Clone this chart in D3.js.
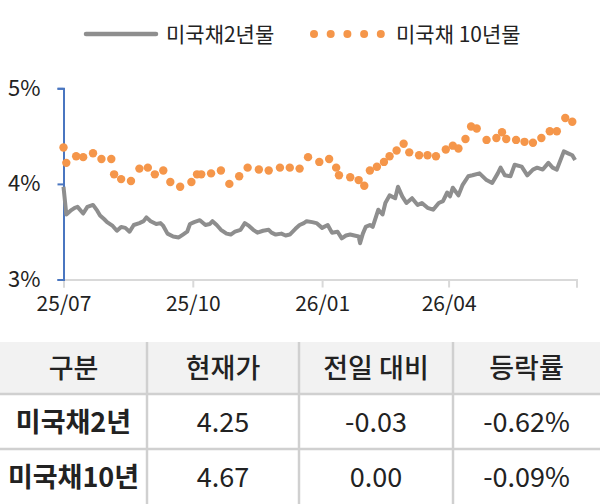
<!DOCTYPE html>
<html>
<head>
<meta charset="utf-8">
<script src="https://cdn.jsdelivr.net/npm/d3@7"></script>
<style>
  body { margin: 0; background: #fff; }
  text { font-family: "Noto Sans CJK KR", "Noto Sans", sans-serif; fill: #222; }
</style>
</head>
<body>
<div id="chart"></div>
<script>
// 미국채 2년물 (daily-ish line)
const t2Dates = ["2025-07-01","2025-07-03","2025-07-06","2025-07-09","2025-07-11","2025-07-15","2025-07-18","2025-07-22","2025-07-25","2025-07-27","2025-07-30","2025-08-01","2025-08-05","2025-08-08","2025-08-11","2025-08-14","2025-08-17","2025-08-20","2025-08-24","2025-08-27","2025-08-29","2025-09-01","2025-09-05","2025-09-08","2025-09-10","2025-09-13","2025-09-17","2025-09-21","2025-09-24","2025-09-27","2025-09-29","2025-10-02","2025-10-06","2025-10-10","2025-10-13","2025-10-15","2025-10-18","2025-10-21","2025-10-25","2025-10-28","2025-10-31","2025-11-04","2025-11-07","2025-11-10","2025-11-13","2025-11-16","2025-11-20","2025-11-24","2025-11-26","2025-11-29","2025-12-03","2025-12-06","2025-12-09","2025-12-13","2025-12-16","2025-12-19","2025-12-21","2025-12-25","2025-12-28","2026-01-01","2026-01-05","2026-01-08","2026-01-12","2026-01-15","2026-01-18","2026-01-21","2026-01-24","2026-01-27","2026-01-28","2026-01-30","2026-02-01","2026-02-04","2026-02-06","2026-02-10","2026-02-13","2026-02-15","2026-02-18","2026-02-22","2026-02-24","2026-02-27","2026-03-02","2026-03-06","2026-03-10","2026-03-13","2026-03-17","2026-03-21","2026-03-25","2026-03-28","2026-03-31","2026-04-02","2026-04-04","2026-04-08","2026-04-11","2026-04-15","2026-04-18","2026-04-23","2026-04-28","2026-05-02","2026-05-06","2026-05-08","2026-05-11","2026-05-15","2026-05-18","2026-05-23","2026-05-27","2026-05-31","2026-06-03","2026-06-07","2026-06-11","2026-06-14","2026-06-17","2026-06-22","2026-06-25","2026-06-28","2026-06-30"];
const t2Values = [3.97,3.68,3.72,3.75,3.76,3.69,3.76,3.78,3.72,3.67,3.63,3.60,3.56,3.51,3.55,3.54,3.50,3.57,3.59,3.61,3.65,3.61,3.58,3.59,3.56,3.48,3.45,3.44,3.47,3.50,3.58,3.60,3.62,3.57,3.58,3.61,3.57,3.52,3.48,3.47,3.50,3.52,3.59,3.56,3.52,3.49,3.51,3.52,3.49,3.47,3.48,3.46,3.47,3.53,3.57,3.59,3.61,3.60,3.59,3.54,3.57,3.49,3.50,3.43,3.46,3.47,3.46,3.45,3.38,3.48,3.55,3.57,3.55,3.73,3.68,3.80,3.88,3.85,3.97,3.87,3.80,3.85,3.78,3.80,3.75,3.73,3.80,3.82,3.91,3.87,3.96,3.88,3.99,4.08,4.09,4.11,4.04,4.01,4.11,4.17,4.09,4.08,4.20,4.18,4.09,4.15,4.17,4.15,4.22,4.17,4.15,4.34,4.32,4.30,4.25];

// 미국채 10년물 (dots)
const t10Dates = ["2025-07-01","2025-07-03","2025-07-10","2025-07-15","2025-07-22","2025-07-28","2025-08-04","2025-08-06","2025-08-11","2025-08-18","2025-08-24","2025-08-30","2025-09-04","2025-09-10","2025-09-15","2025-09-22","2025-09-30","2025-10-04","2025-10-07","2025-10-14","2025-10-21","2025-10-27","2025-11-03","2025-11-09","2025-11-17","2025-11-24","2025-12-02","2025-12-09","2025-12-16","2025-12-22","2025-12-30","2026-01-06","2026-01-11","2026-01-13","2026-01-21","2026-01-27","2026-01-31","2026-02-04","2026-02-09","2026-02-14","2026-02-18","2026-02-23","2026-02-28","2026-03-04","2026-03-11","2026-03-17","2026-03-23","2026-03-30","2026-04-04","2026-04-08","2026-04-13","2026-04-17","2026-04-21","2026-04-28","2026-05-05","2026-05-09","2026-05-12","2026-05-19","2026-05-25","2026-05-31","2026-06-06","2026-06-12","2026-06-17","2026-06-23","2026-06-28"];
const t10Values = [4.38,4.22,4.29,4.28,4.32,4.26,4.26,4.10,4.05,4.03,4.16,4.17,4.10,4.14,4.02,3.97,4.02,4.10,4.10,4.11,4.14,4.00,4.08,4.17,4.15,4.14,4.17,4.17,4.16,4.28,4.23,4.26,4.17,4.09,4.07,4.04,3.98,4.14,4.18,4.23,4.29,4.35,4.42,4.33,4.30,4.30,4.29,4.36,4.40,4.37,4.47,4.60,4.58,4.46,4.48,4.54,4.47,4.46,4.44,4.43,4.48,4.55,4.55,4.69,4.65];

const xTickDates = ["2025-07-01","2025-10-01","2026-01-01","2026-04-01","2026-07-01"];
const xTickLabels = ["25/07","25/10","26/01","26/04",""];
const yTicks = [3, 4, 5];
const seriesNames = ["미국채2년물", "미국채 10년물"];

const tableHeaders = ["구분", "현재가", "전일 대비", "등락률"];
const tableNames = ["미국채2년", "미국채10년"];
const tablePrice = ["4.25", "4.67"];
const tableChange = ["-0.03", "0.00"];
const tableRate = ["-0.62%", "-0.09%"];

const W = 600, H = 504;
const parse = d3.timeParse("%Y-%m-%d");
const GRAY = "#8e8e8e", ORANGE = "#f5964a", BLUE = "#4a76c0";

const svg = d3.select("#chart").append("svg")
    .attr("width", W).attr("height", H);

const x = d3.scaleTime()
    .domain([parse("2025-07-01"), parse("2026-07-01")])
    .range([63.5, 576.5]);
const y = d3.scaleLinear().domain([3, 5]).range([279.5, 88.3]);

// x axis
const xAxis = d3.axisBottom(x)
    .tickValues(xTickDates.map(parse))
    .tickFormat((d, i) => xTickLabels[i])
    .tickSizeOuter(0).tickSize(8).tickPadding(9);
const gx = svg.append("g").attr("transform", "translate(0,279.5)").call(xAxis);
gx.select(".domain").attr("stroke", "#d9d9d9").attr("stroke-width", 2);
gx.selectAll(".tick line").attr("stroke", "#d9d9d9").attr("stroke-width", 2);
gx.selectAll(".tick text").style("font-size", "21px").attr("fill", "#222");

// y axis
const yAxis = d3.axisLeft(y)
    .tickValues(yTicks)
    .tickFormat(d => d + "%")
    .tickSizeOuter(0).tickSize(6).tickPadding(17);
const gy = svg.append("g").attr("transform", "translate(63.5,0)").call(yAxis);
gy.select(".domain").attr("stroke", BLUE).attr("stroke-width", 2);
gy.selectAll(".tick line").attr("stroke", BLUE).attr("stroke-width", 2);
gy.selectAll(".tick text").style("font-size", "22px").attr("fill", "#222");

// 2y line
const t2 = t2Dates.map((d, i) => ({ date: parse(d), v: t2Values[i] }));
svg.append("path")
    .datum(t2)
    .attr("fill", "none")
    .attr("stroke", GRAY)
    .attr("stroke-width", 4)
    .attr("stroke-linejoin", "round")
    .attr("d", d3.line().x(d => x(d.date)).y(d => y(d.v)));

// 10y dots
const t10 = t10Dates.map((d, i) => ({ date: parse(d), v: t10Values[i] }));
svg.append("g").selectAll("circle")
    .data(t10)
    .join("circle")
    .attr("cx", d => x(d.date))
    .attr("cy", d => y(d.v))
    .attr("r", 4.2)
    .attr("fill", ORANGE);

// legend
const lg = svg.append("g");
lg.append("line").attr("x1", 86).attr("x2", 156).attr("y1", 34).attr("y2", 34)
    .attr("stroke", GRAY).attr("stroke-width", 4.5).attr("stroke-linecap", "round");
lg.append("text").attr("x", 166).attr("y", 42).style("font-size", "21px").text(seriesNames[0]);
lg.selectAll("circle.leg")
    .data(d3.range(5))
    .join("circle")
    .attr("class", "leg")
    .attr("cx", i => 314 + i * 16.7)
    .attr("cy", 34)
    .attr("r", 4)
    .attr("fill", ORANGE);
lg.append("text").attr("x", 396).attr("y", 42).style("font-size", "21px").text(seriesNames[1]);

// table
const colEdges = [0, 147, 299, 453, 600];
const rowEdges = [342, 394, 449, 504];
const tbl = svg.append("g");
tbl.append("rect").attr("x", 0).attr("y", rowEdges[0]).attr("width", W)
    .attr("height", rowEdges[1] - rowEdges[0]).attr("fill", "#f2f2f2");
[rowEdges[1], rowEdges[2]].forEach(yy => {
    tbl.append("line").attr("x1", 0).attr("x2", W).attr("y1", yy).attr("y2", yy)
        .attr("stroke", "#d0d0d0").attr("stroke-width", 2.5);
});
colEdges.slice(1, 4).forEach(xx => {
    tbl.append("line").attr("x1", xx).attr("x2", xx).attr("y1", rowEdges[0]).attr("y2", H)
        .attr("stroke", "#d0d0d0").attr("stroke-width", 2.5);
});
const colMid = i => (colEdges[i] + colEdges[i + 1]) / 2;
tableHeaders.forEach((h, i) => {
    tbl.append("text").attr("x", colMid(i)).attr("y", 378)
        .attr("text-anchor", "middle").style("font-size", "27px").style("font-weight", 500)
        .text(h);
});
tableNames.forEach((n, r) => {
    const yy = 432 + r * 55;
    const cells = [n, tablePrice[r], tableChange[r], tableRate[r]];
    cells.forEach((c, i) => {
        tbl.append("text").attr("x", colMid(i)).attr("y", yy)
            .attr("text-anchor", "middle").style("font-size", "27px")
            .style("font-weight", i === 0 ? 700 : 400)
            .text(c);
    });
});
</script>
</body>
</html>
